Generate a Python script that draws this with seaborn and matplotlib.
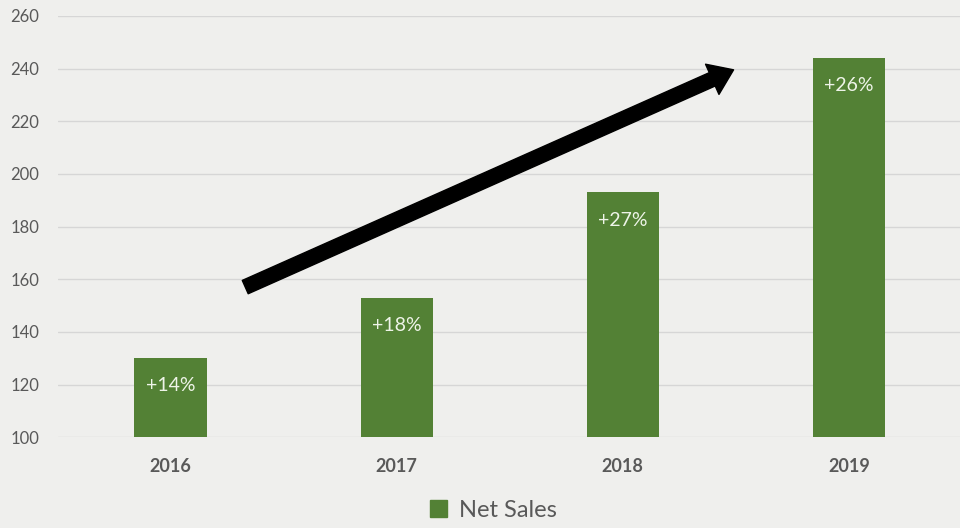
import matplotlib
matplotlib.use("Agg")
import matplotlib.pyplot as plt
import seaborn as sns
import pandas as pd
from matplotlib.patches import Patch

# Net sales per year and year-over-year growth labels
years = ["2016", "2017", "2018", "2019"]
net_sales = [130, 153, 193, 244]
growth_labels = ["+14%", "+18%", "+27%", "+26%"]
y_ticks = [100, 120, 140, 160, 180, 200, 220, 240, 260]

bar_color = "#538135"
text_color = "#595959"
bg_color = "#efefed"

sns.set_style("white")
plt.rcParams["font.family"] = ["Lato", "DejaVu Sans"]

df = pd.DataFrame({"year": years, "sales": net_sales})

fig = plt.figure(figsize=(9.6, 5.28), dpi=100, facecolor=bg_color)
ax = fig.add_axes([0.060, 0.172, 0.942, 0.798])
ax.set_facecolor(bg_color)

sns.barplot(data=df, x="year", y="sales", color=bar_color, width=0.32,
            saturation=1, ax=ax, zorder=3, edgecolor=bar_color, linewidth=0)

ax.set_ylim(y_ticks[0], y_ticks[-1])
ax.set_yticks(y_ticks)
ax.yaxis.grid(True, color="#d6d6d6", linewidth=1.0, zorder=0)
ax.set_axisbelow(True)
for s in ax.spines.values():
    s.set_visible(False)
ax.set_xlabel("")
ax.set_ylabel("")
ax.tick_params(axis="y", length=0, pad=13, labelsize=12, labelcolor=text_color)
ax.tick_params(axis="x", length=0, pad=15, labelsize=13, labelcolor=text_color)
for lbl in ax.get_xticklabels():
    lbl.set_fontweight("bold")

# growth labels inside the bar tops
for i, (v, t) in enumerate(zip(net_sales, growth_labels)):
    ax.annotate(t, xy=(i, v), xytext=(0, -20), textcoords="offset points",
                ha="center", va="center", color="#eef4e8", fontsize=14, zorder=5)

# upward trend arrow
ax.annotate("", xy=(2.49, 239.5), xytext=(0.33, 157),
            arrowprops=dict(arrowstyle="simple,head_length=1.2,head_width=1.7,tail_width=0.75",
                            mutation_scale=14, color="black", shrinkA=0, shrinkB=0),
            zorder=6)

handles = [Patch(facecolor=bar_color, edgecolor=bar_color, label="Net Sales")]
leg = fig.legend(handles=handles, loc="center", bbox_to_anchor=(0.514, 0.034),
                 frameon=False, fontsize=17, handlelength=0.7, handleheight=0.7,
                 handletextpad=0.5)
for t in leg.get_texts():
    t.set_color(text_color)

fig.savefig("out.png", dpi=100, facecolor=bg_color)
